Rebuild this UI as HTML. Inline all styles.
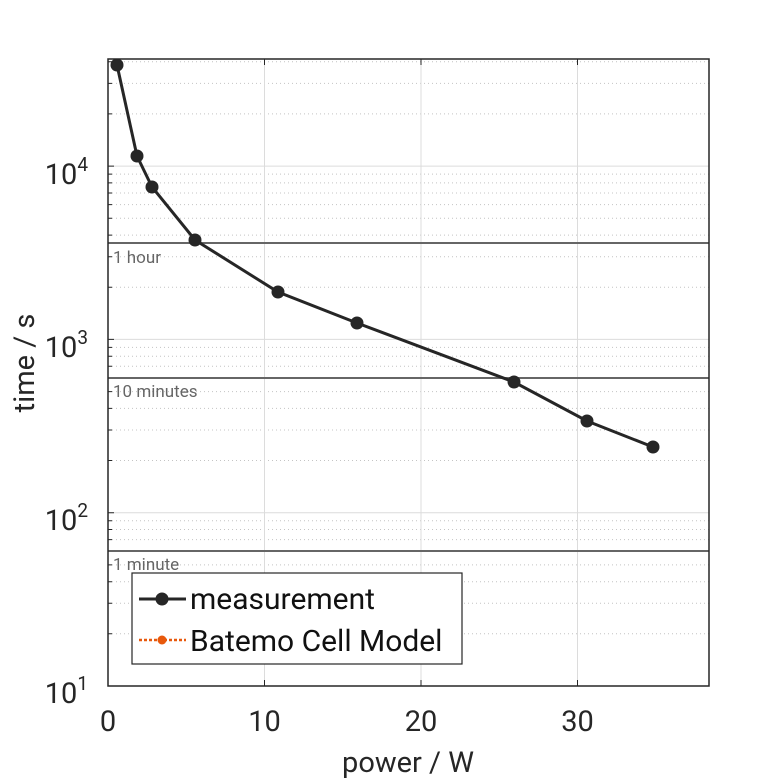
<!DOCTYPE html>
<html><head><style>body{margin:0;background:#fff}svg{display:block}</style></head><body>
<svg width="781" height="781" xmlns="http://www.w3.org/2000/svg" font-family="Roboto, 'Liberation Sans', sans-serif">
<rect width="781" height="781" fill="#fff"/>
<path fill="none" stroke="#c4c4c4" stroke-width="1" stroke-dasharray="1,3" d="M108 633.8H709M108 603.3H709M108 581.7H709M108 564.9H709M108 551.2H709M108 539.6H709M108 529.5H709M108 520.7H709M108 460.5H709M108 430H709M108 408.4H709M108 391.6H709M108 377.9H709M108 366.3H709M108 356.2H709M108 347.4H709M108 287.2H709M108 256.7H709M108 235.1H709M108 218.3H709M108 204.6H709M108 193H709M108 182.9H709M108 174.1H709M108 113.9H709M108 83.4H709M108 61.8H709"/>
<path fill="none" stroke="#dcdcdc" stroke-width="1" d="M108 512.7H709M108 339.4H709M108 166.1H709M264.5 59V686M421 59V686M577.5 59V686"/>
<path fill="none" stroke="#262626" stroke-width="1" d="M108 633.8h4M108 603.3h4M108 581.7h4M108 564.9h4M108 551.2h4M108 539.6h4M108 529.5h4M108 520.7h4M108 512.7h6M108 460.5h4M108 430h4M108 408.4h4M108 391.6h4M108 377.9h4M108 366.3h4M108 356.2h4M108 347.4h4M108 339.4h6M108 287.2h4M108 256.7h4M108 235.1h4M108 218.3h4M108 204.6h4M108 193h4M108 182.9h4M108 174.1h4M108 166.1h6M108 113.9h4M108 83.4h4M108 61.8h4M264.5 686v-6M421 686v-6M577.5 686v-6M264.5 59v6M421 59v6M577.5 59v6"/>
<g stroke="#666" stroke-width="2">
<line x1="108" x2="709" y1="243" y2="243"/>
<line x1="108" x2="709" y1="378" y2="378"/>
<line x1="108" x2="709" y1="551" y2="551"/>
</g>
<g fill="#666" font-size="17">
<text x="113" y="263">1 hour</text>
<text x="113" y="397">10 minutes</text>
<text x="113" y="570">1 minute</text>
</g>
<polyline fill="none" stroke="#262626" stroke-width="3" points="117,65 137,156 152,187 195,240 278,292 357,323 514,382 587,421 653,447"/>
<g fill="#262626">
<circle cx="117" cy="65" r="6.5"/><circle cx="137" cy="156" r="6.5"/><circle cx="152" cy="187" r="6.5"/><circle cx="195" cy="240" r="6.5"/><circle cx="278" cy="292" r="6.5"/><circle cx="357" cy="323" r="6.5"/><circle cx="514" cy="382" r="6.5"/><circle cx="587" cy="421" r="6.5"/><circle cx="653" cy="447" r="6.5"/>
</g>
<rect x="108" y="59" width="601" height="627" fill="none" stroke="#262626" stroke-width="1.5"/>
<rect x="132" y="573" width="330" height="91" fill="#fff" stroke="#262626" stroke-width="1.2"/>
<line x1="139" x2="186" y1="599" y2="599" stroke="#262626" stroke-width="3"/>
<circle cx="162" cy="599" r="6.5" fill="#262626"/>
<line x1="139" x2="186" y1="640" y2="640" stroke="#e8590c" stroke-width="2.5" stroke-dasharray="3,2"/>
<circle cx="162" cy="640" r="4.5" fill="#e8590c"/>
<g fill="#111" font-size="30">
<text x="190" y="609">measurement</text>
<text x="190" y="651">Batemo Cell Model</text>
</g>
<g fill="#262626" font-size="29" text-anchor="middle">
<text x="108" y="731">0</text><text x="264.5" y="731">10</text><text x="421" y="731">20</text><text x="577.5" y="731">30</text>
<text x="408" y="772">power / W</text>
</g>
<g fill="#262626" font-size="29" text-anchor="end">
<text x="88" y="184">10<tspan font-size="19" dy="-13">4</tspan></text>
<text x="88" y="357">10<tspan font-size="19" dy="-13">3</tspan></text>
<text x="88" y="530">10<tspan font-size="19" dy="-13">2</tspan></text>
<text x="88" y="703">10<tspan font-size="19" dy="-13">1</tspan></text>
</g>
<text transform="translate(34,363) rotate(-90)" text-anchor="middle" fill="#262626" font-size="29">time / s</text>
</svg>
</body></html>
